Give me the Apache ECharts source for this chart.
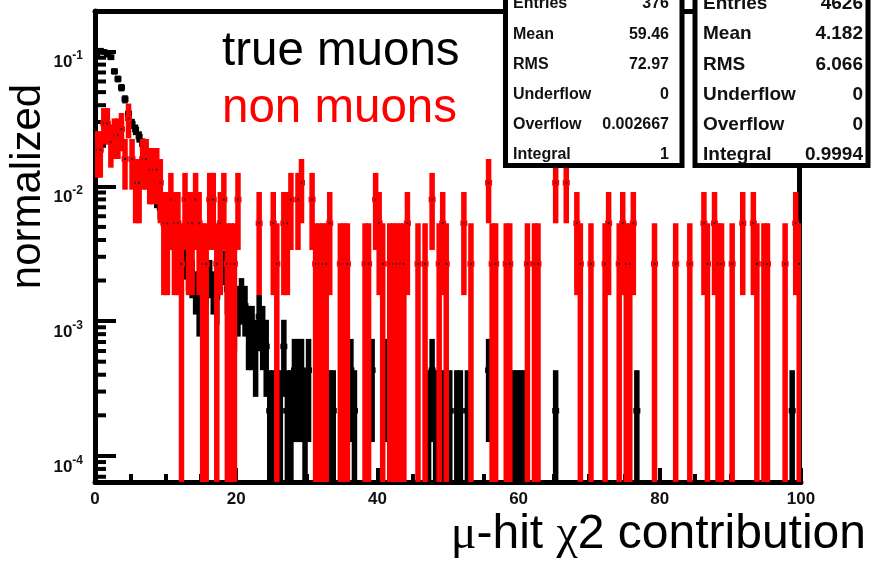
<!DOCTYPE html>
<html>
<head>
<meta charset="utf-8">
<style>
  html, body { margin: 0; padding: 0; background: #fff; }
  #chart { width: 872px; height: 564px; }
</style>
<script src="https://cdn.jsdelivr.net/npm/echarts/dist/echarts.min.js"></script>
</head>
<body>
<div id="chart"></div>
<script>
// ---------------- data ----------------
const xMin = 0, xMax = 100, binWidth = 0.5;      // 200 bins
const yMin = 6.4e-5, yMax = 0.2;
const xTickLabels = [0, 20, 40, 60, 80, 100];
const yMinorTicks = [7e-5, 8e-5, 9e-5,
  2e-4, 3e-4, 4e-4, 5e-4, 6e-4, 7e-4, 8e-4, 9e-4,
  2e-3, 3e-3, 4e-3, 5e-3, 6e-3, 7e-3, 8e-3, 9e-3,
  2e-2, 3e-2, 4e-2, 5e-2, 6e-2, 7e-2, 8e-2, 9e-2, 2e-1];

// non muons (red): entries per 0.5-wide bin, normalised by 376 entries
const nonMuonEntries = 376;
const nonMuonCounts = [
  7,7,11,11,8,9,9,10,6,12,  6,4,4,6,6,5,5,5,4,2,
  2,3,2,2,1,3,2,2,3,2,      1,1,3,3,1,2,3,1,1,1,
  3,0,0,0,0,0,2,0,0,0,      2,1,0,2,2,3,0,3,4,0,
  0,3,1,1,1,1,2,0,0,1,      1,1,0,0,0,0,1,1,0,3,
  2,1,0,1,1,1,1,1,2,0,      0,1,0,1,0,3,0,1,2,1,
  0,0,0,0,2,0,1,0,0,0,      0,4,1,1,0,0,1,1,0,0,
  0,0,1,0,1,1,0,0,0,0,      4,0,0,4,0,0,2,1,0,0,
  1,0,0,0,1,2,0,0,1,2,      1,1,2,0,0,0,0,0,1,0,
  0,0,0,0,1,0,0,0,1,0,      0,0,2,1,0,2,1,1,0,0,
  1,0,0,2,0,0,2,1,0,1,      1,0,0,0,0,1,0,0,2,1
];

// true muons (black): entries per 0.5-wide bin, normalised by 4626 entries
const muonEntries = 4626;
const muonCounts = [
  450,470,460,440,420,330,290,250,205,160,  135,122,108,95,80,62,48,38,32,28,
  25,22,20,17,15,13,11,10,8,6,              8,9,10,8,7,13,12,8,4,5,
  6,7,6,4,4,3,5,4,3,1,                      1,1,1,3,1,1,2,2,2,1,
  2,0,0,0,0,0,1,1,0,0,                      0,2,2,1,0,0,0,0,2,0,
  0,0,2,0,0,0,0,0,0,0,                      0,0,0,0,1,2,1,1,1,1,
  1,0,1,1,0,1,0,0,0,0,                      0,2,0,0,0,0,0,0,1,1,
  1,1,0,0,0,0,0,0,0,0,                      1,0,0,0,0,0,0,0,0,0,
  0,0,0,0,0,0,0,0,0,0,                      0,0,0,1,0,0,0,0,0,0,
  0,0,0,0,0,0,0,0,0,0,                      0,0,0,0,0,0,0,0,0,0,
  0,0,0,0,0,0,0,0,0,0,                      0,0,0,0,0,0,0,1,0,0
];

const statLabels = ['Entries', 'Mean', 'RMS', 'Underflow', 'Overflow', 'Integral'];
const stat1Values = ['376', '59.46', '72.97', '0', '0.002667', '1'];
const stat2Values = ['4626', '4.182', '6.066', '0', '0', '0.9994'];

// ---------------- build ----------------
function buildBins(counts, entries) {
  const out = [];
  counts.forEach(function (n, i) {
    if (n > 0) {
      const x = xMin + (i + 0.5) * binWidth;
      const v = n / entries, e = Math.sqrt(n) / entries;
      out.push([x, v, v - e, v + e]);
    }
  });
  return out;
}

function makeRender(color, drawMarker) {
  return function (params, api) {
    const x = api.value(0), v = api.value(1), lo = api.value(2), hi = api.value(3);
    const pTop = api.coord([x, hi]);
    const yBot = lo > yMin ? api.coord([x, lo])[1] : api.coord([x, yMin])[1];
    const pV = api.coord([x, v]);
    const bw = 5.5, mw = 7, mh = 5.5;
    const children = [
      { type: 'rect', shape: { x: pTop[0] - bw / 2, y: pTop[1], width: bw, height: yBot - pTop[1] }, style: { fill: color } },
      { type: 'rect', shape: { x: pV[0] - mw / 2, y: pV[1] - mh / 2, width: mw, height: mh }, style: { fill: color } }
    ];
    if (drawMarker) {
      children.push({ type: 'rect', shape: { x: pV[0] - 1, y: pV[1] - 1, width: 2, height: 2 }, style: { fill: '#222' } });
    }
    return { type: 'group', children: children };
  };
}

const FONT = '"Liberation Sans", Arial, Helvetica, sans-serif';

const graphics = [];
// stat boxes
graphics.push({ type: 'rect', z: 100, shape: { x: 505.5, y: -20, width: 176.5, height: 185.5 }, style: { fill: '#fff', stroke: '#000', lineWidth: 5 } });
graphics.push({ type: 'rect', z: 100, shape: { x: 695, y: -20, width: 173, height: 185.5 }, style: { fill: '#fff', stroke: '#000', lineWidth: 5 } });
statLabels.forEach(function (lab, i) {
  const yc = 4 + 30.2 * i;
  graphics.push({ type: 'text', z: 101, x: 513, y: yc, style: { text: lab, fill: '#111', font: 'bold 16px ' + FONT, align: 'left', verticalAlign: 'middle' } });
  graphics.push({ type: 'text', z: 101, x: 669, y: yc, style: { text: stat1Values[i], fill: '#111', font: 'bold 16px ' + FONT, align: 'right', verticalAlign: 'middle' } });
  graphics.push({ type: 'text', z: 101, x: 703, y: yc, style: { text: lab, fill: '#111', font: 'bold 19px ' + FONT, align: 'left', verticalAlign: 'middle' } });
  graphics.push({ type: 'text', z: 101, x: 863, y: yc, style: { text: stat2Values[i], fill: '#111', font: 'bold 19px ' + FONT, align: 'right', verticalAlign: 'middle' } });
});
// in-plot legend texts
graphics.push({ type: 'text', z: 50, x: 222, y: 51.5, style: { text: 'true muons', fill: '#000', font: '47.5px ' + FONT, align: 'left', verticalAlign: 'middle' } });
graphics.push({ type: 'text', z: 50, x: 222, y: 108.5, style: { text: 'non muons', fill: '#ff0000', font: '47.5px ' + FONT, align: 'left', verticalAlign: 'middle' } });
// axis titles
graphics.push({ type: 'text', z: 50, x: 28, y: 186.5, rotation: Math.PI / 2, style: { text: 'normalized', fill: '#000', font: '42px ' + FONT, align: 'center', verticalAlign: 'middle' } });
graphics.push({ type: 'text', z: 50, x: 866, y: 535, style: {
  text: '{g|μ}-hit {g|χ}2 contribution', fill: '#000', font: '48px ' + FONT, align: 'right', verticalAlign: 'middle',
  rich: { g: { fontFamily: '"Liberation Serif", "DejaVu Serif", serif', fontSize: 48, fill: '#000' } }
} });

const frameAxisLine = { show: true, onZero: false, lineStyle: { color: '#000', width: 5 } };

const chart = echarts.init(document.getElementById('chart'), null, { renderer: 'canvas' });
chart.setOption({
  animation: false,
  backgroundColor: '#fff',
  grid: { left: 95, right: 71, top: 11, bottom: 82, show: false },
  xAxis: [{
    type: 'value', min: xMin, max: xMax, interval: 20,
    axisLine: { show: true, onZero: false, lineStyle: { color: '#000', width: 5 } },
    axisTick: { show: true, inside: true, length: 14, lineStyle: { color: '#000', width: 4 } },
    minorTick: { show: true, splitNumber: 4, length: 8, lineStyle: { color: '#000', width: 4 } },
    splitLine: { show: false }, minorSplitLine: { show: false },
    axisLabel: {
      margin: 9, color: '#111', fontFamily: FONT, fontWeight: 'bold', fontSize: 17,
      formatter: function (v) { return xTickLabels.indexOf(v) >= 0 ? String(v) : ''; }
    }
  }, {
    // top edge of the frame
    type: 'value', position: 'top', min: 0, max: 1,
    axisLine: frameAxisLine, axisTick: { show: false }, axisLabel: { show: false }, splitLine: { show: false }
  }],
  yAxis: [{
    type: 'log', min: yMin, max: yMax, logBase: 10,
    axisLine: { show: true, lineStyle: { color: '#000', width: 5 } },
    axisTick: { show: true, inside: true, length: 21, lineStyle: { color: '#000', width: 4 } },
    splitLine: { show: false },
    axisLabel: {
      margin: 12, color: '#111', fontFamily: FONT, padding: [22, 0, 0, 0],
      formatter: function (v) {
        const e = Math.log10(v), r = Math.round(e);
        if (Math.abs(e - r) > 1e-6) return '';
        return '{b|10}{s|' + r + '}';
      },
      rich: {
        b: { fontSize: 17, fontWeight: 'bold', fontFamily: FONT, lineHeight: 17, verticalAlign: 'bottom', color: '#111' },
        s: { fontSize: 12, fontWeight: 'bold', fontFamily: FONT, lineHeight: 12, verticalAlign: 'bottom', padding: [0, 0, 9, 0], color: '#111' }
      }
    }
  }, {
    // right edge of the frame (mostly hidden behind the last bins)
    type: 'value', position: 'right', offset: -2, min: 0, max: 1,
    axisLine: frameAxisLine, axisTick: { show: false }, axisLabel: { show: false }, splitLine: { show: false }
  }],
  series: [
    {
      name: 'true muons', type: 'custom', coordinateSystem: 'cartesian2d', clip: true,
      renderItem: makeRender('#000', false),
      data: buildBins(muonCounts, muonEntries), encode: { x: 0, y: 1 }
    },
    {
      name: 'minor ticks', type: 'custom', coordinateSystem: 'cartesian2d', clip: false, silent: true,
      renderItem: function (params, api) {
        const p = api.coord([xMin, api.value(1)]);
        return { type: 'line', shape: { x1: p[0], y1: p[1], x2: p[0] + 11, y2: p[1] }, style: { stroke: '#000', lineWidth: 4 } };
      },
      data: yMinorTicks.map(function (v) { return [xMin, v]; }), encode: { x: 0, y: 1 }
    },
    {
      name: 'non muons', type: 'custom', coordinateSystem: 'cartesian2d', clip: true,
      renderItem: makeRender('#ff0000', true),
      data: buildBins(nonMuonCounts, nonMuonEntries), encode: { x: 0, y: 1 }
    }
  ],
  graphic: graphics
});
</script>
</body>
</html>
